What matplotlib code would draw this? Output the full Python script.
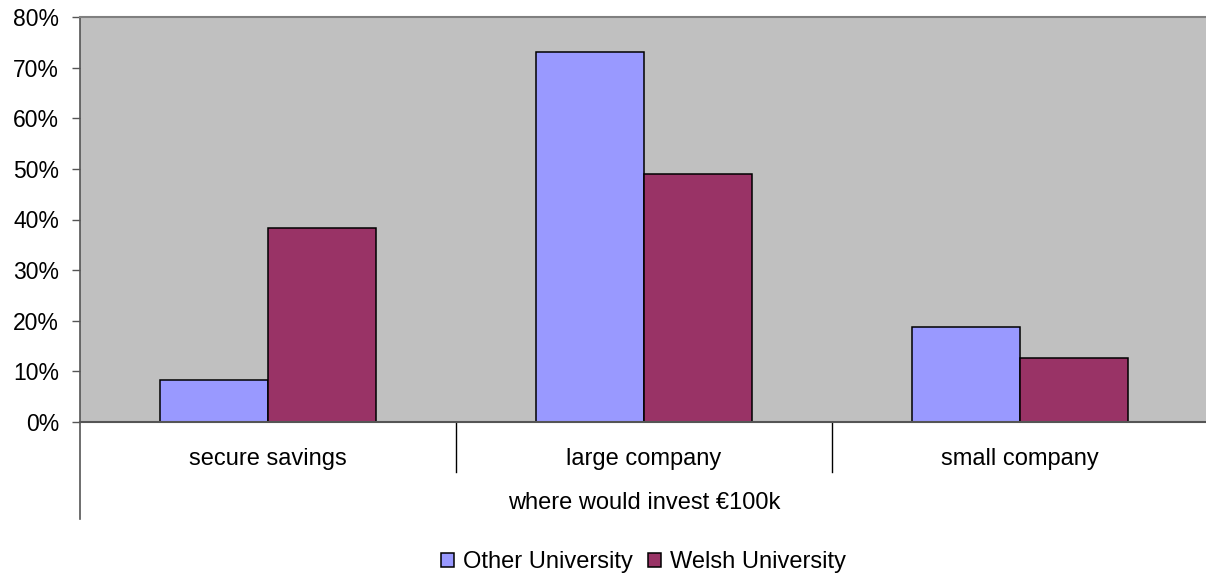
import matplotlib
matplotlib.use("Agg")
import matplotlib.pyplot as plt
import numpy as np
from matplotlib.patches import Patch

categories = ["secure savings", "large company", "small company"]
other_university = [8.3, 73.1, 18.8]
welsh_university = [38.3, 48.9, 12.7]
series_names = ["Other University", "Welsh University"]
yticks = [0, 10, 20, 30, 40, 50, 60, 70, 80]
ytick_labels = [f"{v}%" for v in yticks]
axis_title = "where would invest €100k"

plt.rcParams['font.family'] = ['Liberation Sans', 'DejaVu Sans']

W, H = 1206, 578
fig = plt.figure(figsize=(W / 100, H / 100), dpi=100)
left, right, top, bottom = 80, 1208, 17, 422
ax = fig.add_axes([left / W, 1 - bottom / H, (right - left) / W, (bottom - top) / H])
ax.set_facecolor("#C0C0C0")

x = np.arange(len(categories))
bw = 0.287
ax.bar(x - bw / 2, other_university, bw, color="#9999FF", edgecolor="black", linewidth=1.1, zorder=3)
ax.bar(x + bw / 2, welsh_university, bw, color="#993366", edgecolor="black", linewidth=1.1, zorder=3)

ax.set_xlim(-0.5, len(categories) - 0.5)
ax.set_ylim(0, 80)
ax.set_yticks(yticks, ytick_labels)
ax.tick_params(axis="y", length=6, width=1, color="#555555", pad=9, labelsize=16.5, labelcolor="black")
ax.set_xticks([])

ax.spines["right"].set_visible(False)
ax.spines["top"].set_color("#808080")
ax.spines["top"].set_linewidth(1.5)
ax.spines["left"].set_color("#555555")
ax.spines["left"].set_linewidth(1.2)
ax.spines["bottom"].set_color("#555555")
ax.spines["bottom"].set_linewidth(1.5)
ax.spines["bottom"].set_zorder(4)

ah = bottom - top
trans = ax.get_xaxis_transform()
# left axis extension
ax.plot([-0.5, -0.5], [0, -97 / ah], transform=trans, color="#555555", lw=1.2, clip_on=False)
# category separators
for sep in x[:-1] + 0.5:
    ax.plot([sep, sep], [0, -50 / ah], transform=trans, color="black", lw=1.0, clip_on=False)

for xi, c in zip(x, categories):
    ax.text(xi, -37 / ah, c, transform=trans, ha="center", va="center", fontsize=17)
ax.text(1.0, -81 / ah, axis_title, transform=trans, ha="center", va="center", fontsize=17)

handles = [Patch(facecolor="#9999FF", edgecolor="black", linewidth=1.1),
           Patch(facecolor="#993366", edgecolor="black", linewidth=1.1)]
fig.legend(handles, series_names, loc="center", bbox_to_anchor=(643.5 / W, 1 - 562 / H),
           ncol=2, frameon=False, fontsize=17, handlelength=0.55, handleheight=0.55,
           handletextpad=0.38, columnspacing=0.64, borderpad=0, borderaxespad=0)

fig.savefig("out.png", dpi=100)
